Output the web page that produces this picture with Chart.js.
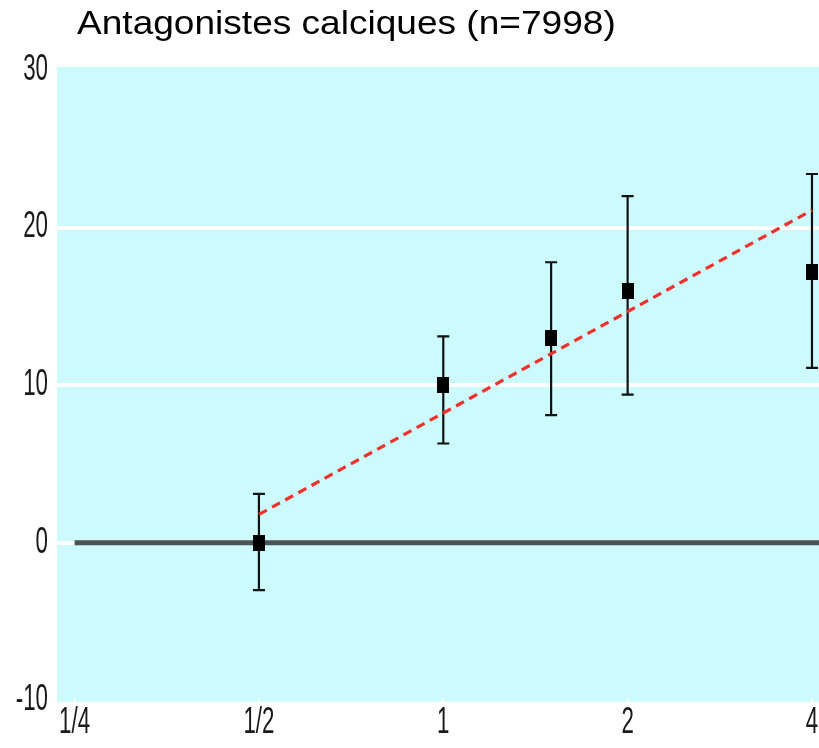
<!DOCTYPE html>
<html><head><meta charset="utf-8">
<style>html,body{margin:0;padding:0;background:#fff;overflow:hidden}</style>
<script src="https://cdn.jsdelivr.net/npm/chart.js@4/dist/chart.umd.min.js"></script>
</head><body>
<canvas id="c" width="819" height="748"></canvas>
<script>
const titleText = 'Antagonistes calciques (n=7998)';
const doseX = [0.5, 1, 1.5, 2, 4];
const effectY = [0, 10, 13, 16, 17.2];
const errLow = [-3, 6.3, 8.1, 9.4, 11.1];
const errHigh = [3.1, 13.1, 17.8, 22, 23.4];
const trendX = [0.5, 4];
const trendY = [1.8, 21.1];
const refX = [0.25, 4.107];
const refY = [0, 0];
const xTickValues = [0.25, 0.5, 1, 2, 4];
const xTickLabels = ['1/4', '1/2', '1', '2', '4'];
const yTickValues = [-10, 0, 10, 20, 30];
const yTickLabels = ['-10', '0', '10', '20', '30'];

const tickFont = {family: "'Liberation Sans', Arial, sans-serif", size: 36};
const TICK_SX = 0.62;
const TITLE_SX = 1.09;

// draw text horizontally condensed/stretched around its anchor
function withStretch(ctx, sx, fn) {
  const of = CanvasRenderingContext2D.prototype.fillText;
  ctx.fillText = function (t, x, y, mw) {
    this.save();
    this.scale(sx, 1);
    if (mw !== undefined && mw !== null) of.call(this, t, x / sx, y, mw / sx);
    else of.call(this, t, x / sx, y);
    this.restore();
  };
  try { fn(); } finally { delete ctx.fillText; }
}
function condenseScale(s) {
  if (s._condensed) return;
  s._condensed = true;
  const orig = s.drawLabels;
  s.drawLabels = function (area) { withStretch(this.ctx, TICK_SX, () => orig.call(this, area)); };
}

const marker = document.createElement('canvas');
marker.width = 12; marker.height = 16;
(function () { const m = marker.getContext('2d'); m.fillStyle = '#000'; m.fillRect(0, 0, 12, 16); })();

const bgPlugin = {
  id: 'bg',
  beforeDraw(chart) {
    const {ctx, chartArea: a} = chart;
    ctx.save();
    ctx.fillStyle = '#cdfbfd';
    ctx.fillRect(a.left, a.top, a.right - a.left, a.bottom - a.top);
    ctx.restore();
  }
};
const titlePlugin = {
  id: 'titleShift',
  afterLayout(chart) {
    const t = chart.titleBlock;
    if (!t) return;
    t.left = 77;
    if (!t._stretched) {
      t._stretched = true;
      const od = t.draw;
      t.draw = function (area) { withStretch(this.ctx, TITLE_SX, () => od.call(this, area)); };
    }
  }
};
const errPlugin = {
  id: 'errbars',
  beforeDatasetsDraw(chart) {
    const {ctx, chartArea: a} = chart, xs = chart.scales.x, ys = chart.scales.y;
    ctx.save();
    // small white tick marks inside the bottom of the plot
    ctx.strokeStyle = '#ffffff';
    ctx.lineWidth = 2;
    ctx.beginPath();
    xTickValues.forEach(v => {
      const px = xs.getPixelForValue(v);
      ctx.moveTo(px, a.bottom); ctx.lineTo(px, a.bottom - 4);
    });
    ctx.stroke();
    // error bars
    ctx.strokeStyle = '#111';
    ctx.lineWidth = 2.2;
    for (let i = 0; i < doseX.length; i++) {
      const px = xs.getPixelForValue(doseX[i]);
      const y1 = ys.getPixelForValue(errLow[i]);
      const y2 = ys.getPixelForValue(errHigh[i]);
      ctx.beginPath();
      ctx.moveTo(px, y1); ctx.lineTo(px, y2);
      ctx.moveTo(px - 6, y1); ctx.lineTo(px + 6, y1);
      ctx.moveTo(px - 6, y2); ctx.lineTo(px + 6, y2);
      ctx.stroke();
    }
    ctx.restore();
  }
};

new Chart(document.getElementById('c'), {
  type: 'scatter',
  data: {
    datasets: [
      {
        label: 'ref',
        data: refX.map((x, i) => ({x, y: refY[i]})),
        showLine: true, borderColor: '#4b5252', borderWidth: 5,
        pointRadius: 0, order: 3
      },
      {
        label: 'effect',
        data: doseX.map((x, i) => ({x, y: effectY[i]})),
        showLine: false, pointStyle: marker, pointRadius: 8,
        backgroundColor: '#000', borderColor: '#000', order: 2
      },
      {
        label: 'trend',
        data: trendX.map((x, i) => ({x, y: trendY[i]})),
        showLine: true, borderColor: '#f0302a', borderWidth: 3.2,
        borderDash: [9, 6], pointRadius: 0, order: 1
      }
    ]
  },
  options: {
    responsive: false,
    animation: false,
    devicePixelRatio: 1,
    layout: {padding: 0, autoPadding: false},
    plugins: {
      legend: {display: false},
      tooltip: {enabled: false},
      title: {
        display: true, text: titleText, align: 'start', color: '#000',
        font: {family: "'Liberation Sans', Arial, sans-serif", size: 34, weight: 'normal', lineHeight: 1.2},
        padding: {top: 4, bottom: 22}
      }
    },
    scales: {
      x: {
        type: 'logarithmic', min: 0.234, max: 4.107,
        afterBuildTicks: (s) => { s.ticks = xTickValues.map(v => ({value: v})); },
        afterFit: (s) => { s.height = 46; s.paddingLeft = 0; s.paddingRight = 0; condenseScale(s); },
        border: {display: false},
        grid: {drawOnChartArea: false, drawTicks: true, tickLength: 7, tickColor: 'rgba(0,0,0,0)'},
        ticks: {
          padding: -8, color: '#1a1a1a', font: tickFont, maxRotation: 0, autoSkip: false,
          callback: (v, i) => xTickLabels[i]
        }
      },
      y: {
        type: 'linear', min: -10.1, max: 30.2,
        afterBuildTicks: (s) => { s.ticks = yTickValues.map(v => ({value: v})); },
        afterFit: (s) => { s.width = 57; s.paddingTop = 0; s.paddingBottom = 0; condenseScale(s); },
        border: {display: false},
        grid: {
          drawTicks: false, lineWidth: 4,
          color: (c) => (c.tick && (c.tick.value === 10 || c.tick.value === 20 || c.tick.value === 0)) ? '#ffffff' : 'rgba(0,0,0,0)'
        },
        ticks: {
          padding: 9, color: '#1a1a1a', font: tickFont, autoSkip: false,
          callback: (v, i) => yTickLabels[i]
        }
      }
    }
  },
  plugins: [bgPlugin, titlePlugin, errPlugin]
});
</script>
</body></html>
